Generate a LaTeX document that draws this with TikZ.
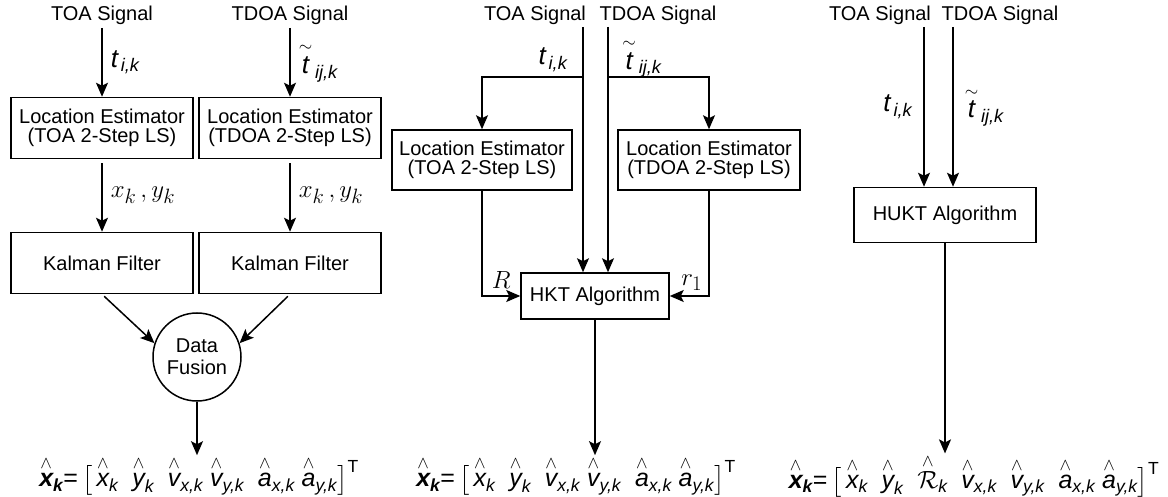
\documentclass[tikz,border=0pt]{standalone}
\usepackage{amsmath}
\usepackage{fontspec}
\setmainfont{Liberation Sans}
\usepackage{tikz}
\usetikzlibrary{positioning,arrows.meta,calc}
\newcommand{\tik}{$\text{\itshape t}_{\,\text{\itshape i,k}}$}
\newcommand{\ttik}{${\overset{\sim}{\text{\itshape t}}}_{\,\text{\itshape ij,k}}$}
\newcommand{\hv}[2]{{\overset{\wedge}{\text{\itshape #1}}}_{\text{\itshape #2}}}
\newcommand{\hxbold}{{\overset{\wedge}{\text{\bfseries\itshape x}}}_{\text{\bfseries\itshape k}}}
\tikzset{
    every node/.style={font=\fontsize{20}{19}\selectfont},
    blockbox/.style={draw,line width=1.5pt,minimum width=182pt,minimum height=61pt,align=center,inner sep=2pt},
    algbox/.style={draw,line width=1.5pt,minimum width=148pt,minimum height=46pt,inner sep=2pt},
    fusionnode/.style={circle,draw,line width=1.5pt,minimum size=88pt,inner sep=0pt,align=center,font=\fontsize{20}{22}\selectfont},
    lbl/.style={font=\fontsize{26}{26}\selectfont,inner sep=1pt},
    mlbl/.style={font=\fontsize{24.88}{25}\selectfont,inner sep=1pt},
    eq/.style={font=\fontsize{25}{25}\selectfont,inner sep=1pt},
    arr/.style={-{Stealth[length=14pt,width=12pt,inset=3pt]},line width=1.5pt}
}

\begin{document}
\begin{tikzpicture}[x=1pt,y=-1pt]
\useasboundingbox (0,0) rectangle (1168,497);
% separate estimators + data fusion
\foreach \n/\xx/\kind/\sym in {1/102/TOA/\tik,2/290/TDOA/\ttik}{
    \node (sigA\n) at (\xx,15) {\kind\ Signal};
    \node[blockbox] (locA\n) at (\xx,128) {Location Estimator\\(\kind\ 2-Step LS)};
    \node[blockbox] (kalA\n) at (\xx,263) {Kalman Filter};
    \draw[arr] (sigA\n) -- node[right=7pt,lbl] (symA\n) {\sym} (locA\n);
    \draw[arr,shorten <=4pt] (locA\n) -- node[right=7pt,mlbl] (xyA\n) {$x_k\,,y_k$} (kalA\n);
}
\node[fusionnode] (fusion) at (197,357) {Data\\Fusion};
\draw[arr,shorten <=3pt] (kalA1.south) -- (fusion.162);
\draw[arr,shorten <=3pt] (kalA2.south) -- (fusion.18);
\node[eq] (eqA) at (199,476) {$\hxbold\text{=}\,\big[\,\hv{x}{k}\;\;\hv{y}{k}\;\;\hv{v}{x,k}\;\hv{v}{y,k}\;\;\hv{a}{x,k}\;\hv{a}{y,k}\big]^{\text{T}}$};
\draw[arr] (fusion.south) -- (fusion.south |- eqA.north);

% HKT
\node (sigB1) at (535,15) {TOA Signal};
\node (sigB2) at (658,15) {TDOA Signal};
\coordinate (srcB1) at (583,27);
\coordinate (srcB2) at (608,27);
\coordinate (brB1) at (583,77);
\coordinate (brB2) at (608,77);
\node[blockbox,minimum width=180pt,minimum height=60pt] (locB1) at (482,160) {Location Estimator\\(TOA 2-Step LS)};
\node[blockbox,minimum height=60pt] (locB2) at (709,160) {Location Estimator\\(TDOA 2-Step LS)};
\node[algbox] (hkt) at (595,296) {HKT Algorithm};
\node[lbl] (tB) at (553,60) {\tik};
\node[lbl] (ttB) at (642,58) {\ttik};
\draw[arr] (srcB1) -- (srcB1 |- hkt.north);
\draw[arr] (srcB2) -- (srcB2 |- hkt.north);
\draw[arr] (brB1) -| (locB1.north);
\draw[arr] (brB2) -| (locB2.north);
\draw[arr] (locB1.south) |- node[pos=0.5,mlbl,above right=6pt and 8pt] (rB) {$R$} (hkt.west);
\draw[arr] (locB2.south) |- node[pos=0.5,mlbl,above left=4pt and 5pt] (r1B) {$r_1$} (hkt.east);
\node[eq] (eqB) at (576,476) {$\hxbold\text{=}\,\big[\,\hv{x}{k}\;\;\hv{y}{k}\;\;\hv{v}{x,k}\;\hv{v}{y,k}\;\;\hv{a}{x,k}\;\hv{a}{y,k}\big]^{\text{T}}$};
\draw[arr] (hkt.south) -- (hkt.south |- eqB.north);

% HUKT
\node (sigC1) at (880,15) {TOA Signal};
\node (sigC2) at (1000,15) {TDOA Signal};
\coordinate (srcC1) at (924,27);
\coordinate (srcC2) at (953,27);
\node[algbox,minimum width=182pt,minimum height=55pt] (hukt) at (945,215) {HUKT Algorithm};
\draw[arr] (srcC1) -- node[left=10pt,lbl] (tC) {\tik} (srcC1 |- hukt.north);
\draw[arr] (srcC2) -- node[right=10pt,lbl] (ttC) {\ttik} (srcC2 |- hukt.north);
\node[eq] (eqC) at (974,476) {$\hxbold\text{=}\,\big[\,\hv{x}{k}\;\;\hv{y}{k}\;\;{\overset{\wedge}{\mathcal{R}}}_{\text{\itshape k}}\;\;\hv{v}{x,k}\;\;\hv{v}{y,k}\;\;\hv{a}{x,k}\;\hv{a}{y,k}\big]^{\text{T}}$};
\draw[arr] (hukt.south) -- (hukt.south |- eqC.north);
\end{tikzpicture}
\end{document}
